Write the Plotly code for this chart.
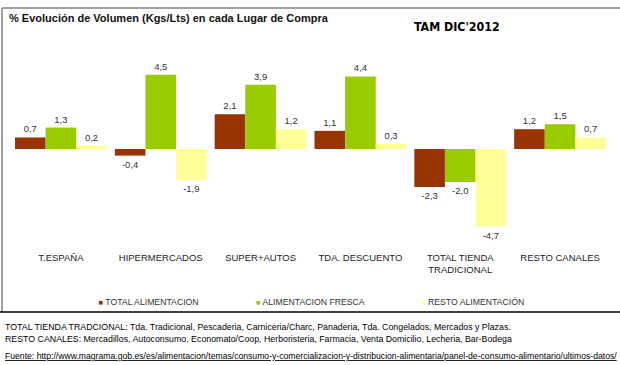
import plotly.graph_objects as go

categories = ["T.ESPAÑA", "HIPERMERCADOS", "SUPER+AUTOS", "TDA. DESCUENTO",
              "TOTAL TIENDA<br>TRADICIONAL", "RESTO CANALES"]
series_names = ["TOTAL ALIMENTACION", "ALIMENTACION FRESCA", "RESTO ALIMENTACIÓN"]
total_alimentacion = [0.7, -0.4, 2.1, 1.1, -2.3, 1.2]
alimentacion_fresca = [1.3, 4.5, 3.9, 4.4, -2.0, 1.5]
resto_alimentacion = [0.2, -1.9, 1.2, 0.3, -4.7, 0.7]
colors = ["#993300", "#99CC00", "#FFFF99"]

title_text = "% Evolución de Volumen (Kgs/Lts) en cada Lugar de Compra"
tam_text = "TAM DIC'2012"
note1 = ("TOTAL TIENDA TRADCIONAL: Tda. Tradicional, Pescaderia, Carniceria/Charc, "
         "Panaderia, Tda. Congelados, Mercados y Plazas.")
note2 = ("RESTO CANALES: Mercadillos, Autoconsumo, Economato/Coop, Herboristeria, "
         "Farmacia, Venta Domicilio, Lecheria, Bar-Bodega")
source = ("Fuente: http://www.magrama.gob.es/es/alimentacion/temas/consumo-y-comercializacion-"
          "y-distribucion-alimentaria/panel-de-consumo-alimentario/ultimos-datos/")

W, H = 620, 365
ML, MR, MT, MB = 11, 10, 40, 115
PW, PH = W - ML - MR, H - MT - MB


def px(x):
    return (x - ML) / PW


def py(y):
    return (H - MB - y) / PH


FONT = "Liberation Sans, Arial, sans-serif"

fig = go.Figure()
all_series = [total_alimentacion, alimentacion_fresca, resto_alimentacion]
legend_ids = ["legend", "legend2", "legend3"]
for name, vals, col, lg in zip(series_names, all_series, colors, legend_ids):
    fig.add_trace(go.Bar(
        x=categories, y=vals, name=name, marker=dict(color=col, line=dict(width=0)),
        texttemplate="%{y:.1f}", textposition="outside", cliponaxis=False,
        textfont=dict(family=FONT, size=9.5, color="#333333"),
        showlegend=False, legendgroup=name, hoverinfo="x+y+name"))
    fig.add_trace(go.Scatter(
        x=[None], y=[None], mode="markers",
        marker=dict(color="rgba(0,0,0,0)", size=1),
        name=f'<span style="color:{col};font-size:7.5px">■</span> {name}',
        legendgroup=name, legend=lg, showlegend=True))

legend_common = dict(orientation="h", xanchor="left", yanchor="middle",
                     bgcolor="rgba(0,0,0,0)", borderwidth=0,
                     font=dict(family=FONT, size=8.7, color="#333333"))

fig.update_layout(
    width=W, height=H,
    margin=dict(l=ML, r=MR, t=MT, b=MB, pad=0, autoexpand=False),
    paper_bgcolor="white", plot_bgcolor="white",
    separators=",.",
    barmode="group", bargap=0.08, bargroupgap=0,
    xaxis=dict(showgrid=False, zeroline=False, showline=False, ticks="",
               tickfont=dict(family=FONT, size=9.5, color="#222222"), fixedrange=True),
    yaxis=dict(range=[-(H - MB - 149) / 16.5, (149 - MT) / 16.5], visible=False,
               showgrid=False, zeroline=False),
    legend=dict(x=px(58.5), y=py(302), **legend_common),
    legend2=dict(x=px(216), y=py(302), **legend_common),
    legend3=dict(x=px(381), y=py(302), **legend_common),
    annotations=[
        dict(text=f"<b>{title_text}</b>", x=px(7), y=py(18), xref="paper", yref="paper",
             xanchor="left", yanchor="middle", showarrow=False,
             font=dict(family=FONT, size=11, color="#111111")),
        dict(text=f"<b>{tam_text}</b>", x=px(412), y=py(27), xref="paper", yref="paper",
             xanchor="left", yanchor="middle", showarrow=False,
             font=dict(family="DejaVu Sans Condensed, DejaVu Sans", size=12.3, color="#000000")),
        dict(text=note1, x=px(3), y=py(327), xref="paper", yref="paper",
             xanchor="left", yanchor="middle", showarrow=False,
             font=dict(family=FONT, size=8.8, color="#000000")),
        dict(text=note2, x=px(3), y=py(339), xref="paper", yref="paper",
             xanchor="left", yanchor="middle", showarrow=False,
             font=dict(family=FONT, size=8.8, color="#000000")),
        dict(text=f"<u>{source}</u>", x=px(3), y=py(356), xref="paper", yref="paper",
             xanchor="left", yanchor="middle", showarrow=False,
             font=dict(family=FONT, size=8.65, color="#000000")),
    ],
    shapes=[
        dict(type="line", xref="paper", yref="paper", x0=px(2), x1=px(621), y0=py(8), y1=py(8),
             line=dict(color="#808080", width=1.5)),
        dict(type="line", xref="paper", yref="paper", x0=px(2), x1=px(2), y0=py(8), y1=py(312),
             line=dict(color="#808080", width=1.5)),
        dict(type="line", xref="paper", yref="paper", x0=px(0), x1=px(621), y0=py(312), y1=py(312),
             line=dict(color="#000000", width=1.5)),
    ],
)

fig.write_html("out.html", config={"displayModeBar": False},
               post_script="document.body.style.margin='0';document.body.style.overflow='hidden';")
